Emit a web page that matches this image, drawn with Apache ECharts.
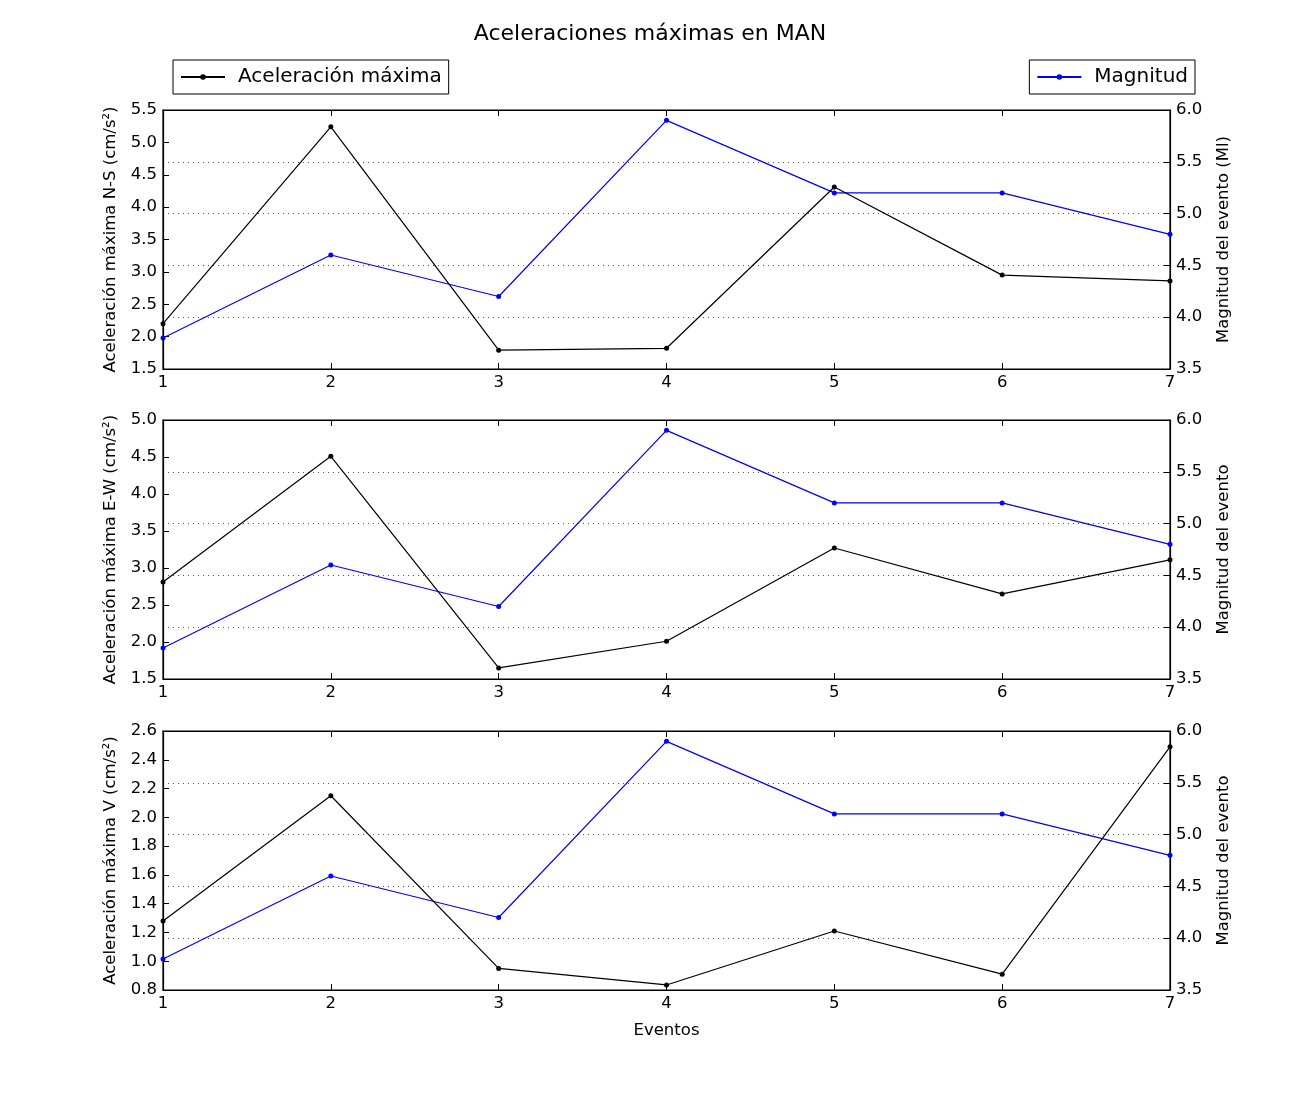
<!DOCTYPE html>
<html><head><meta charset="utf-8">
<script src="https://cdn.jsdelivr.net/npm/echarts@6/dist/echarts.min.js"></script>
<style>html,body{margin:0;padding:0;background:#fff}#c{width:1300px;height:1100px}</style>
</head><body><div id="c"></div>
<script>
const eventos = [1, 2, 3, 4, 5, 6, 7];
const magnitud = [3.8, 4.6, 4.2, 5.9, 5.2, 5.2, 4.8];
const accNS = [2.2, 5.24, 1.79, 1.82, 4.31, 2.95, 2.86];
const accEW = [2.81, 4.51, 1.65, 2.01, 3.27, 2.65, 3.11];
const accV = [1.28, 2.15, 0.95, 0.835, 1.21, 0.91, 2.49];
const leftNames = ['Aceleración máxima N-S (cm/s²)', 'Aceleración máxima E-W (cm/s²)', 'Aceleración máxima V (cm/s²)'];
const rightNames = ['Magnitud del evento (Ml)', 'Magnitud del evento', 'Magnitud del evento'];
const leftRanges = [[1.5, 5.5, 0.5], [1.5, 5.0, 0.5], [0.8, 2.6, 0.2]];
const accs = [accNS, accEW, accV];

const FONT = 'DejaVu Sans';
const FS = 16.5;
const tops = [110, 420, 731];
const grids = [], xAxes = [], yAxes = [], series = [];
for (let i = 0; i < 3; i++) {
  grids.push({left: 163, right: 130, top: tops[i], height: 259, show: true, borderColor: '#000', borderWidth: 1.2, backgroundColor: 'transparent'});
  xAxes.push({type: 'value', gridIndex: i, min: 1, max: 7, interval: 1,
    name: i === 2 ? 'Eventos' : '', nameLocation: 'middle', nameGap: 32,
    nameTextStyle: {fontFamily: FONT, fontSize: FS, color: '#000'},
    axisLine: {show: true, onZero: false, lineStyle: {color: '#000', width: 1.2}},
    axisTick: {show: true, inside: true, length: 6, lineStyle: {color: '#000'}},
    axisLabel: {fontFamily: FONT, fontSize: FS, color: '#000', margin: 5},
    splitLine: {show: false}});
  xAxes.push({type: 'value', gridIndex: i, min: 1, max: 7, interval: 1, position: 'top',
    axisLine: {show: true, lineStyle: {color: '#000', width: 1.2}},
    axisTick: {show: true, inside: true, length: 6, lineStyle: {color: '#000'}},
    axisLabel: {show: false}, splitLine: {show: false}});
  const r = leftRanges[i];
  yAxes.push({type: 'value', gridIndex: i, min: r[0], max: r[1], interval: r[2], position: 'left',
    name: leftNames[i], nameLocation: 'middle', nameGap: 44,
    nameTextStyle: {fontFamily: FONT, fontSize: FS, color: '#000'},
    axisLine: {show: true, lineStyle: {color: '#000', width: 1.2}},
    axisTick: {show: true, inside: true, length: 6, lineStyle: {color: '#000'}},
    axisLabel: {fontFamily: FONT, fontSize: FS, color: '#000', margin: 6, formatter: v => v.toFixed(1)},
    splitLine: {show: false}});
  yAxes.push({type: 'value', gridIndex: i, min: 3.5, max: 6.0, interval: 0.5, position: 'right',
    name: rightNames[i], nameLocation: 'middle', nameGap: 45, nameRotate: 90,
    nameTextStyle: {fontFamily: FONT, fontSize: FS, color: '#000'},
    axisLine: {show: true, lineStyle: {color: '#000', width: 1.2}},
    axisTick: {show: true, inside: true, length: 6, lineStyle: {color: '#000'}},
    axisLabel: {fontFamily: FONT, fontSize: FS, color: '#000', margin: 6, formatter: v => v.toFixed(1)},
    splitLine: {show: true, lineStyle: {color: '#555', type: [1, 4], width: 1}}});
  series.push({name: 'Aceleración máxima', type: 'line', xAxisIndex: 2 * i, yAxisIndex: 2 * i,
    data: eventos.map((e, k) => [e, accs[i][k]]), symbol: 'circle', symbolSize: 5,
    itemStyle: {color: '#000'}, lineStyle: {color: '#000', width: 1.2}, z: 3});
  series.push({name: 'Magnitud', type: 'line', xAxisIndex: 2 * i, yAxisIndex: 2 * i + 1,
    data: eventos.map((e, k) => [e, magnitud[k]]), symbol: 'circle', symbolSize: 5,
    itemStyle: {color: '#0000ff'}, lineStyle: {color: '#0000ff', width: 1.2}, z: 2});
}

const legendCommon = {orient: 'horizontal', top: 60, itemWidth: 44, itemHeight: 7, itemGap: 10,
  borderColor: '#000', borderWidth: 1, borderRadius: 0, padding: [7, 7, 7, 7],
  textStyle: {fontFamily: FONT, fontSize: 20, color: '#000', padding: [0, 0, 0, 8]}};
const chart = echarts.init(document.getElementById('c'));
chart.setOption({
  animation: false,
  backgroundColor: '#fff',
  title: {text: 'Aceleraciones máximas en MAN', left: 'center', top: 18,
    textStyle: {fontFamily: FONT, fontSize: 22, fontWeight: 'normal', color: '#000'}},
  legend: [
    Object.assign({}, legendCommon, {left: 173, data: ['Aceleración máxima']}),
    Object.assign({}, legendCommon, {right: 105, data: ['Magnitud']})
  ],
  grid: grids, xAxis: xAxes, yAxis: yAxes, series: series
});
</script></body></html>
